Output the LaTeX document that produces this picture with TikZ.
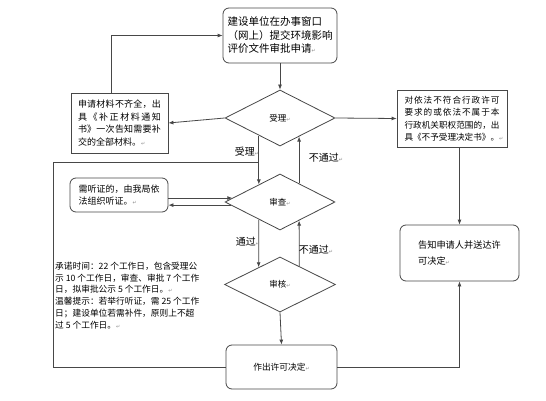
\documentclass[tikz,border=0pt]{standalone}
\usepackage{fontspec}
\setmainfont{Noto Sans CJK SC}
\newfontfamily\dvfont{DejaVu Sans}
\usetikzlibrary{shapes.geometric,calc,arrows.meta}
\newcommand\retm{{\dvfont\fontsize{5}{5}\selectfont\textcolor{black!45}{↵}}}
\def\sprd#1{\sprdA#1\relax}
\def\sprdA#1{\ifx#1\relax\else#1\expandafter\sprdB\fi}
\def\sprdB#1{\ifx#1\relax\else\hfill#1\expandafter\sprdB\fi}
\newcommand\jline[1]{\makebox[\linewidth]{\sprd{#1}}}
\newcommand\lline[1]{\makebox[\linewidth][l]{#1}}
\begin{document}
\begin{tikzpicture}[x=1pt,y=-1pt,
  ln/.style={draw=black!72,line width=0.8pt},
  arr/.style={ln,-{Latex[length=5pt,width=4pt]}},
  rbox/.style={ln,rectangle,rounded corners=6pt,inner sep=2pt},
  sbox/.style={ln,rectangle,inner sep=2pt},
  dia/.style={ln,diamond,aspect=2,inner sep=0pt},
  txt/.style={font=\fontsize{9}{12.5}\selectfont},
  lab/.style={font=\fontsize{10}{10}\selectfont,inner sep=0pt}]
\useasboundingbox (0,0) rectangle (546,401);
\fill[white] (0,0) rectangle (546,401);

\node[rbox,minimum width=114,minimum height=55,align=left,
  font=\fontsize{10.5}{13.5}\selectfont] (top) at (280,35.5)
  {建设单位在办事窗口\\（网上）提交环境影响\\评价文件审批申请\retm};

\node[dia,minimum width=110,minimum height=56,font=\fontsize{8.5}{8.5}\selectfont] (shouli) at (280,118) {受理\retm};
\node[dia,minimum width=110,minimum height=56,font=\fontsize{8.5}{8.5}\selectfont] (shencha) at (280,202) {审查\retm};
\node[dia,minimum width=111,minimum height=55,font=\fontsize{8.5}{8.5}\selectfont] (shenhe) at (280,284.5) {审核\retm};

\node[sbox,txt,minimum width=97,minimum height=60,text width=83pt,align=left] (shen) at (119.5,123)
  {\jline{申请材料不齐全，出}\\\jline{具《补正材料通知}\\\jline{书》一次告知需要补}\\交的全部材料。\retm};

\node[sbox,minimum width=110,minimum height=57,text width=95pt,align=left,
  font=\fontsize{8.6}{12.5}\selectfont] (buyu) at (452,118.5)
  {\jline{对依法不符合行政许可}\\\jline{要求的或依法不属于本}\\\jline{行政机关职权范围的，出}\\\lline{具《不予受理决定书》。\retm}};

\node[rbox,minimum width=119,minimum height=56,align=left,
  font=\fontsize{9.2}{16}\selectfont] (gaozhi) at (459.5,253)
  {告知申请人并送达许\\可决定\retm};

\node[rbox,minimum width=98,minimum height=34,align=left,
  font=\fontsize{9}{12}\selectfont] (hear) at (119,195)
  {需听证的，由我局依\\法组织听证。\retm};

\node[rbox,minimum width=111,minimum height=44,font=\fontsize{8.7}{8.7}\selectfont] (zuochu) at (281.5,367)
  {作出许可决定\retm};

\node[anchor=north west,align=left,inner sep=0pt,font=\fontsize{8.7}{11.7}\selectfont] (note) at (55,262)
  {承诺时间：22 个工作日，包含受理公\\示 10 个工作日，审查、审批 7 个工作\\日，拟审批公示 5 个工作日。\retm\\温馨提示：若举行听证，需 25 个工作\\日；建设单位若需补件，原则上不超\\过 5 个工作日。\retm};

% connectors
\draw[arr] ([xshift=-8.5pt]shen.north) |- (top.west);
\draw[arr] (top.south) -- (shouli.north);
\draw[arr] (shouli.west) -- (shen.east);
\draw[arr] (shouli.east) -- (buyu.west);
\draw[arr] (gaozhi.north |- buyu.south) -- (gaozhi.north);

\coordinate (a1) at ($(shouli.south)!0.382!(shouli.west)$);
\coordinate (a2) at ($(shencha.north)!0.382!(shencha.west)$);
\draw[arr] (a1) -- (a2);
\node[lab] (l1) at (247,152) {受理\retm};

\coordinate (b1) at ($(shencha.north)!0.345!(shencha.east)$);
\coordinate (b2) at ($(shouli.south)!0.345!(shouli.east)$);
\draw[arr] (b1) -- (b2);
\node[lab] (l2) at (326,158) {不通过\retm};

\coordinate (p1) at ($(shencha.west)!0.14!(shencha.north)$);
\coordinate (p2) at ($(shencha.west)!0.11!(shencha.south)$);
\draw[arr] (hear.east |- p1) -- (p1);
\draw[arr] (p2) -- (hear.east |- p2);

\coordinate (c1) at ($(shencha.south)!0.382!(shencha.west)$);
\coordinate (c2) at ($(shenhe.north)!0.382!(shenhe.west)$);
\draw[arr] (c1) -- (c2);
\node[lab] (l3) at (248,242) {通过\retm};

\coordinate (d1) at ($(shenhe.north)!0.345!(shenhe.east)$);
\coordinate (d2) at ($(shencha.south)!0.345!(shencha.east)$);
\draw[arr] (d1) -- (d2);
\node[lab] (l4) at (316,250) {不通过\retm};

\draw[arr] (shenhe.south) -- (zuochu.north);
\draw[arr] (zuochu.east) -| (gaozhi.south);

\coordinate (lc) at (53,162);
\coordinate (j) at (a1 |- lc);
\draw[ln] (zuochu.west) -| (lc) -- (j);
\end{tikzpicture}
\end{document}
